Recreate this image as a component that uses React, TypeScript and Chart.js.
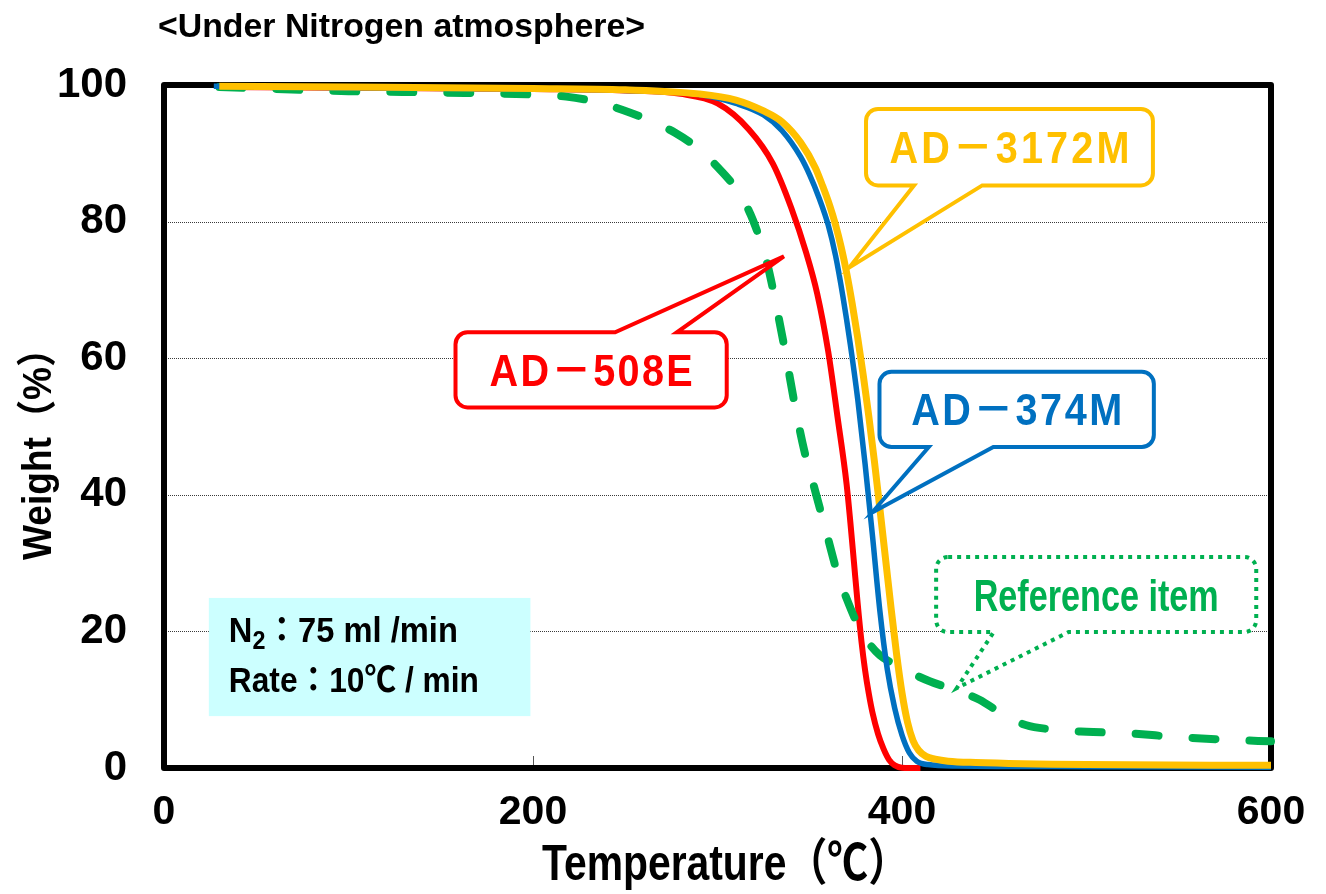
import React, { useEffect, useRef } from "react";
import { Chart, registerables } from "chart.js";

Chart.register(...registerables);

// ---------- text ----------
const CHART_TITLE = "<Under Nitrogen atmosphere>";
const X_TITLE = "Temperature（℃）";
const Y_TITLE = "Weight（%）";
const INFO_LINE1_MAIN = "N";
const INFO_LINE1_SUB = "2";
const INFO_LINE1_REST = "：75 ml /min";
const INFO_LINE2 = "Rate：10℃ / min";

// ---------- ticks ----------
const X_TICKS = [0, 200, 400, 600];
const Y_TICKS = [0, 20, 40, 60, 80, 100];

// ---------- series ----------
const AD508E_T = [30, 100, 200, 250, 280, 300, 317, 330, 340, 348, 354, 360, 365, 370, 372, 374, 376, 378, 380, 382, 384, 387, 390, 393, 396, 400, 410];
const AD508E_W = [99.7, 99.6, 99.4, 99.2, 98.7, 97.3, 93.5, 88.5, 82, 75.5, 69.5, 61, 51.5, 41.5, 36, 30, 24, 18.6, 14.3, 10.9, 8.1, 5, 2.8, 1.2, 0.4, 0.05, 0];

const AD374M_T = [27, 100, 200, 250, 290, 310, 325, 335, 345, 350, 355, 360, 364, 368, 372, 376, 380, 384, 388, 392, 396, 400, 404, 408, 414, 430, 500, 600];
const AD374M_W = [99.8, 99.6, 99.4, 99.2, 98.6, 97.3, 95.6, 93.3, 89.5, 86.8, 83.5, 79.5, 75, 69, 62, 54, 44.5, 34, 23, 14.5, 8.8, 4.8, 2.2, 1.0, 0.5, 0.3, 0.2, 0.1];

const AD3172M_T = [30, 100, 200, 250, 290, 310, 325, 335, 345, 353, 357, 361, 364, 367, 370, 373, 376, 379, 382, 385, 388, 391, 394, 397, 400, 403, 406, 409, 413, 418, 425, 440, 500, 600];
const AD3172M_W = [99.8, 99.7, 99.5, 99.3, 98.7, 97.8, 96.2, 94.6, 91.6, 87.9, 85.2, 82.2, 79.5, 76.3, 72.5, 68, 63, 57.5, 51.5, 45, 38, 30.8, 23.6, 16.8, 11, 6.7, 4, 2.6, 1.7, 1.3, 1.0, 0.8, 0.5, 0.4];

const REF_T = [30, 100, 150, 200, 218, 235, 249, 265, 277, 290, 300, 309, 317, 322, 327, 332, 337, 342, 347, 352, 356, 360, 365, 370, 376, 382, 388, 395, 405, 415, 430, 442, 455, 467, 483, 500, 521, 551, 580, 600];
const REF_W = [99.7, 99.1, 98.9, 98.6, 98.3, 97.5, 96.3, 94.6, 93, 90.6, 88, 85.2, 81.6, 78.2, 73.8, 67.5, 60.5, 53, 46.5, 41.5, 37.5, 33.5, 28.5, 24.8, 21, 18.3, 16.5, 15.3, 13.9, 12.7, 11.3, 10, 7.8, 6.3, 5.6, 5.3, 5.1, 4.5, 4.1, 3.9];

// ---------- annotation labels ----------
const LABEL_3172M = "AD－3172M";
const LABEL_508E = "AD－508E";
const LABEL_374M = "AD－374M";
const LABEL_REF = "Reference item";

const COLORS = {
  red: "#FF0000",
  blue: "#0070C0",
  yellow: "#FFC000",
  green: "#00B050",
};

const FONT = '"Liberation Sans", Arial, "Noto Sans CJK JP", sans-serif';

function pts(t: number[], w: number[]) {
  return t.map((v, i) => ({ x: v, y: w[i] }));
}

// callouts in data coordinates: box [t1, w1, t2, w2], pointer base [t1, t2] on given edge, tip [t, w]
const CALLOUTS = [
  { text: LABEL_3172M, color: COLORS.yellow, dotted: false, box: [380.5, 96.5, 536, 85.3], edge: "bottom", base: [406.5, 443.5], tip: [371.5, 73.3], textW: 240, narrow: false },
  { text: LABEL_508E, color: COLORS.red, dotted: false, box: [158, 63.8, 305, 52.8], edge: "top", base: [244.5, 278], tip: [336, 74.9], textW: 203, narrow: false },
  { text: LABEL_374M, color: COLORS.blue, dotted: false, box: [387.8, 58.0, 536.5, 47.0], edge: "bottom", base: [414.5, 449.5], tip: [383.8, 37.4], textW: 211, narrow: false },
  { text: LABEL_REF, color: COLORS.green, dotted: true, box: [418.5, 30.9, 592, 19.9], edge: "bottom", base: [449.7, 490.3], tip: [429.7, 11.7], textW: 245, narrow: true },
];

function drawCallout(ctx: CanvasRenderingContext2D, c: any, xs: any, ys: any) {
  const x1 = xs.getPixelForValue(c.box[0]);
  const y1 = ys.getPixelForValue(c.box[1]);
  const x2 = xs.getPixelForValue(c.box[2]);
  const y2 = ys.getPixelForValue(c.box[3]);
  const b1 = xs.getPixelForValue(c.base[0]);
  const b2 = xs.getPixelForValue(c.base[1]);
  const tx = xs.getPixelForValue(c.tip[0]);
  const ty = ys.getPixelForValue(c.tip[1]);
  const r = 12;
  ctx.save();
  ctx.beginPath();
  ctx.moveTo(x1 + r, y1);
  if (c.edge === "top") {
    ctx.lineTo(b1, y1);
    ctx.lineTo(tx, ty);
    ctx.lineTo(b2, y1);
  }
  ctx.lineTo(x2 - r, y1);
  ctx.arcTo(x2, y1, x2, y1 + r, r);
  ctx.lineTo(x2, y2 - r);
  ctx.arcTo(x2, y2, x2 - r, y2, r);
  if (c.edge === "bottom") {
    ctx.lineTo(b2, y2);
    ctx.lineTo(tx, ty);
    ctx.lineTo(b1, y2);
  }
  ctx.lineTo(x1 + r, y2);
  ctx.arcTo(x1, y2, x1, y2 - r, r);
  ctx.lineTo(x1, y1 + r);
  ctx.arcTo(x1, y1, x1 + r, y1, r);
  ctx.closePath();
  ctx.fillStyle = "#fff";
  ctx.fill();
  ctx.strokeStyle = c.color;
  ctx.lineWidth = 4;
  ctx.lineJoin = "miter";
  ctx.miterLimit = 10;
  if (c.dotted) {
    ctx.setLineDash([4, 5]);
    ctx.lineCap = "butt";
  }
  ctx.stroke();
  ctx.setLineDash([]);

  // text
  const cx = (x1 + x2) / 2;
  const cy = (y1 + y2) / 2;
  ctx.fillStyle = c.color;
  ctx.font = `bold 44px ${FONT}`;
  ctx.textBaseline = "alphabetic";
  ctx.textAlign = "left";
  if (c.narrow) {
    const w = ctx.measureText(c.text).width;
    const sx = c.textW / w;
    ctx.translate(cx - c.textW / 2, cy + 16);
    ctx.scale(sx, 1);
    ctx.fillText(c.text, 0, 0);
  } else {
    const sx = 0.9;
    const n = [...c.text].length;
    (ctx as any).letterSpacing = "0px";
    const w = ctx.measureText(c.text).width;
    const sp = (c.textW / sx - w) / (n - 1);
    (ctx as any).letterSpacing = `${sp}px`;
    ctx.translate(cx - c.textW / 2, cy + 16);
    ctx.scale(sx, 1);
    ctx.fillText(c.text, 0, 0);
    (ctx as any).letterSpacing = "0px";
  }
  ctx.restore();
}

function fitText(ctx: CanvasRenderingContext2D, parts: { t: string; size: number; dy: number }[], x: number, y: number, targetW: number) {
  let total = 0;
  const widths = parts.map((p) => {
    ctx.font = `bold ${p.size}px ${FONT}`;
    const w = ctx.measureText(p.t).width;
    total += w;
    return w;
  });
  const sx = targetW / total;
  ctx.save();
  ctx.translate(x, y);
  ctx.scale(sx, 1);
  let cur = 0;
  parts.forEach((p, i) => {
    ctx.font = `bold ${p.size}px ${FONT}`;
    ctx.fillText(p.t, cur, p.dy);
    cur += widths[i];
  });
  ctx.restore();
}

const decorPlugin = {
  id: "decor",
  beforeDatasetsDraw(chart: any) {
    const { ctx, chartArea, scales } = chart;
    const { left, right, top, bottom } = chartArea;
    const xs = scales.x;
    const ys = scales.y;
    ctx.save();
    // dotted horizontal grid
    ctx.strokeStyle = "#3a3a3a";
    ctx.lineWidth = 1;
    ctx.setLineDash([1, 1]);
    Y_TICKS.forEach((v) => {
      if (v <= ys.min || v >= ys.max) return;
      const py = Math.round(ys.getPixelForValue(v)) + 0.5;
      ctx.beginPath();
      ctx.moveTo(left, py);
      ctx.lineTo(right, py);
      ctx.stroke();
    });
    ctx.setLineDash([]);
    // small inner x tick marks
    ctx.strokeStyle = "#555";
    X_TICKS.forEach((v) => {
      if (v <= xs.min || v >= xs.max) return;
      const px = Math.round(xs.getPixelForValue(v)) + 0.5;
      ctx.beginPath();
      ctx.moveTo(px, bottom);
      ctx.lineTo(px, bottom - 12);
      ctx.stroke();
    });
    // info box
    const ix1 = xs.getPixelForValue(24.3);
    const iy1 = ys.getPixelForValue(24.9);
    const ix2 = xs.getPixelForValue(198.6);
    const iy2 = ys.getPixelForValue(7.6);
    ctx.fillStyle = "#CCFFFF";
    ctx.fillRect(ix1, iy1, ix2 - ix1, iy2 - iy1);
    ctx.fillStyle = "#000";
    ctx.textBaseline = "alphabetic";
    ctx.textAlign = "left";
    fitText(
      ctx,
      [
        { t: INFO_LINE1_MAIN, size: 35, dy: 0 },
        { t: INFO_LINE1_SUB, size: 25, dy: 7 },
        { t: INFO_LINE1_REST, size: 35, dy: 0 },
      ],
      ix1 + 20,
      iy1 + 44,
      229
    );
    fitText(ctx, [{ t: INFO_LINE2, size: 35, dy: 0 }], ix1 + 20, iy1 + 94, 250);
    // frame
    ctx.strokeStyle = "#000";
    ctx.lineWidth = 6;
    ctx.lineJoin = "round";
    ctx.beginPath();
    ctx.rect(left, top, right - left, bottom - top);
    ctx.stroke();
    ctx.restore();
  },
  afterDatasetsDraw(chart: any) {
    const { ctx, scales } = chart;
    CALLOUTS.forEach((c) => drawCallout(ctx, c, scales.x, scales.y));
  },
  afterDraw(chart: any) {
    const { ctx, chartArea } = chart;
    ctx.save();
    ctx.fillStyle = "#000";
    ctx.textAlign = "left";
    ctx.textBaseline = "alphabetic";
    // chart title
    fitText(ctx, [{ t: CHART_TITLE, size: 33, dy: 0 }], 158, 37, 487);
    // x axis title
    const xCenter = (chartArea.left + chartArea.right) / 2 + 8;
    fitText(ctx, [{ t: X_TITLE, size: 50, dy: 0 }], xCenter - 367 / 2, 880, 367);
    // y axis title (rotated)
    ctx.save();
    ctx.translate(51, 445 + 230 / 2);
    ctx.rotate(-Math.PI / 2);
    fitText(ctx, [{ t: Y_TITLE, size: 40, dy: 0 }], 0, 0, 230);
    ctx.restore();
    ctx.restore();
  },
};

export default function App() {
  const canvasRef = useRef<HTMLCanvasElement | null>(null);

  useEffect(() => {
    document.body.style.margin = "0";
    const canvas = canvasRef.current;
    if (!canvas) return;
    const common = {
      pointRadius: 0,
      pointHoverRadius: 0,
      fill: false,
      cubicInterpolationMode: "monotone" as const,
      clip: false as any,
      borderJoinStyle: "round" as const,
    };
    const chart = new Chart(canvas, {
      type: "line",
      data: {
        datasets: [
          { ...common, label: "AD-508E", data: pts(AD508E_T, AD508E_W), borderColor: COLORS.red, borderWidth: 6, order: 4 },
          { ...common, label: "Reference item", data: pts(REF_T, REF_W), borderColor: COLORS.green, borderWidth: 8, borderDash: [23, 34], borderCapStyle: "round", order: 3 },
          { ...common, label: "AD-374M", data: pts(AD374M_T, AD374M_W), borderColor: COLORS.blue, borderWidth: 5.5, order: 2 },
          { ...common, label: "AD-3172M", data: pts(AD3172M_T, AD3172M_W), borderColor: COLORS.yellow, borderWidth: 7, order: 1 },
        ],
      },
      options: {
        responsive: false,
        animation: false,
        events: [],
        layout: { padding: { top: 85, right: 55, left: 0, bottom: 0 } },
        plugins: {
          legend: { display: false },
          tooltip: { enabled: false },
          title: { display: false },
        },
        scales: {
          x: {
            type: "linear",
            min: 0,
            max: 600,
            afterBuildTicks: (s: any) => {
              s.ticks = X_TICKS.map((v) => ({ value: v }));
            },
            grid: { display: false, drawTicks: false },
            border: { display: false },
            ticks: {
              color: "#000",
              font: { family: FONT, size: 41, weight: "bold" },
              padding: 20,
              maxRotation: 0,
              autoSkip: false,
            },
            title: { display: false },
            afterFit: (s: any) => {
              s.height = 894 - 768;
            },
          },
          y: {
            type: "linear",
            min: 0,
            max: 100,
            afterBuildTicks: (s: any) => {
              s.ticks = Y_TICKS.map((v) => ({ value: v }));
            },
            grid: { display: false, drawTicks: false },
            border: { display: false },
            ticks: {
              color: "#000",
              font: { family: FONT, size: 42, weight: "bold" },
              padding: 37,
            },
            title: { display: false },
            afterFit: (s: any) => {
              s.width = 164;
            },
          },
        },
      },
      plugins: [decorPlugin],
    });
    return () => chart.destroy();
  }, []);

  return (
    <div style={{ position: "absolute", left: 0, top: 0, width: 1326, height: 894, background: "#fff" }}>
      <canvas ref={canvasRef} width={1326} height={894} style={{ display: "block" }} />
    </div>
  );
}
